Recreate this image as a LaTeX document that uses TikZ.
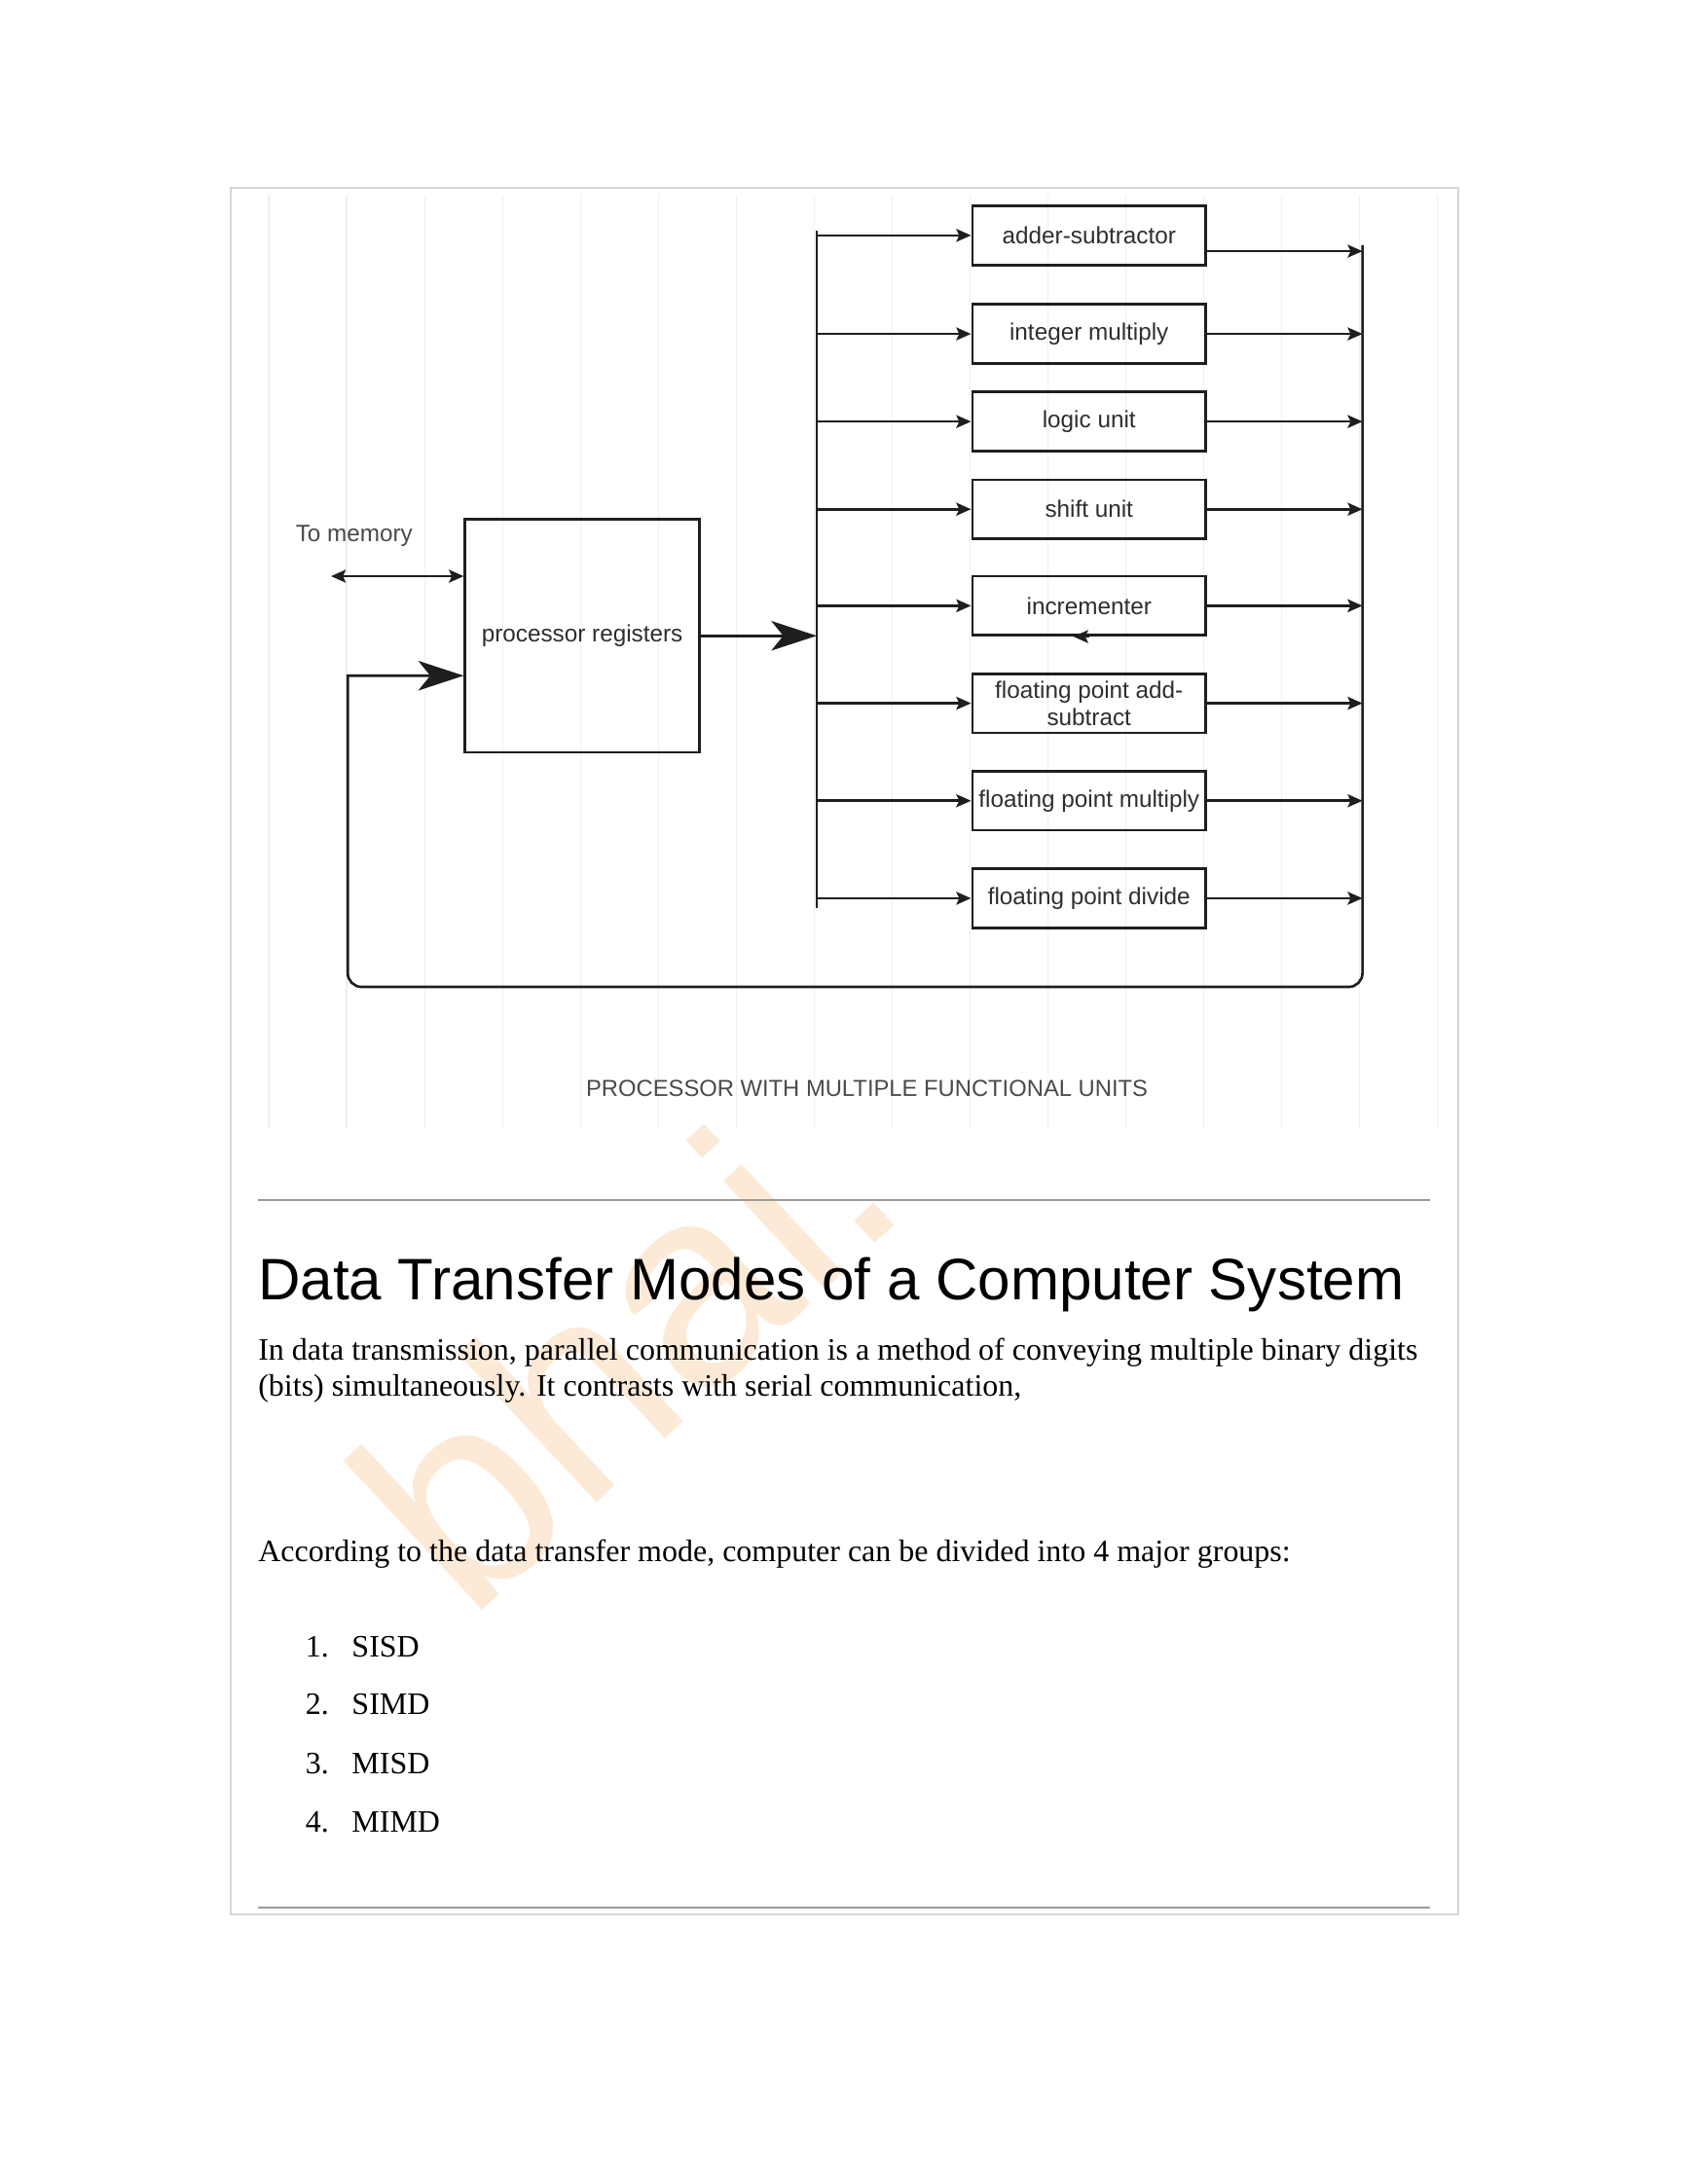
\documentclass[tikz,border=0pt]{standalone}
\usepackage{fontspec}
\setmainfont{Liberation Serif}
\newfontfamily\arialf{Liberation Sans}
\usetikzlibrary{arrows.meta}
\definecolor{ink}{HTML}{1E1E1E}
\definecolor{txt}{HTML}{2E2E2E}
\definecolor{capgray}{HTML}{4A4A4A}
\definecolor{rulegray}{HTML}{9A9A9A}
\definecolor{framegray}{HTML}{D6D6D6}
\definecolor{gridgray}{HTML}{EFEFEF}
\definecolor{wmorange}{HTML}{F5A04A}
\begin{document}
\begin{tikzpicture}[x=1pt,y=-1pt,
  unitbox/.style={draw=ink, line width=2.6pt, minimum width=237pt, minimum height=60pt,
    inner sep=0pt, align=center, text=txt, font=\arialf\fontsize{24}{28}\selectfont},
  regbox/.style={draw=ink, line width=2.6pt, minimum width=238pt, minimum height=237pt,
    inner sep=0pt, text=txt, font=\arialf\fontsize{24}{28}\selectfont},
  wire/.style={draw=ink, line width=2.6pt},
  arr/.style={wire, -{Stealth[length=15pt,width=13pt,inset=3pt]}},
  dblarr/.style={wire, {Stealth[length=15pt,width=13pt,inset=3pt]}-{Stealth[length=15pt,width=13pt,inset=3pt]}},
  bigarr/.style={wire, -{Stealth[length=46pt,width=30pt,inset=12pt]}},
  serif/.style={inner sep=0pt, anchor=base west, font=\fontsize{31.6}{36}\selectfont, text=black},
]
\useasboundingbox (0,0) rectangle (1713.4,2217.4);
\fill[white] (0,0) rectangle (1713.4,2217.4);

% page frame
\draw[framegray, line width=2pt] (234,191) rectangle (1480,1944);

% faint grid of the drawing
\foreach \i in {0,...,15}
  \draw[gridgray, line width=1.6pt] ({273+79.07*\i},198) -- ({273+79.07*\i},1145);

% watermark
\node[rotate=43, text=wmorange, text opacity=0.22, inner sep=0pt,
      font=\arialf\fontsize{285}{285}\selectfont] (wm) at (632,1362) {bhai.};

% bus coordinates
\coordinate (busLtop) at (829,234);
\coordinate (busLbot) at (829,922);
\coordinate (busRtop) at (1383,249);
\coordinate (busRbot) at (1383,1002);
\coordinate (loopL) at (353,1002);
\coordinate (loopM) at (353,820);
\coordinate (loopT) at (353,686);
\coordinate (memL) at (336,585);

% functional units
\node[unitbox] (adder)  at (1105.5,239) {adder-subtractor};
\node[unitbox] (intmul) at (1105.5,339) {integer multiply};
\node[unitbox] (logic)  at (1105.5,428) {logic unit};
\node[unitbox] (shift)  at (1105.5,517) {shift unit};
\node[unitbox] (inc)    at (1105.5,615) {incrementer};
\node[unitbox] (fpadd)  at (1105.5,714) {floating point add-\\subtract};
\node[unitbox] (fpmul)  at (1105.5,813) {floating point multiply};
\node[unitbox] (fpdiv)  at (1105.5,912) {floating point divide};

% processor registers
\node[regbox] (proc) at (591,645.5) {processor registers};

% labels
\node[inner sep=0pt, anchor=west, text=capgray, font=\arialf\fontsize{24}{28}\selectfont] (tomem) at (300,544) {To memory};
\node[inner sep=0pt, text=capgray, font=\arialf\fontsize{23.5}{28}\selectfont] (cap) at (880,1105) {PROCESSOR WITH MULTIPLE FUNCTIONAL UNITS};

% left bus
\draw[wire] (busLtop) -- (busLbot);
\foreach \u in {adder,intmul,logic,shift,inc,fpadd,fpmul,fpdiv}
  \draw[arr] (\u.west -| busLtop) -- (\u.west);

% outputs to right bus
\draw[arr] ([yshift=-16pt]adder.east) -- ([yshift=-16pt]adder.east -| busRtop);
\foreach \u in {intmul,logic,shift,inc,fpadd,fpmul,fpdiv}
  \draw[arr] (\u.east) -- (\u.east -| busRtop);

% incrementer small arrow
\draw[arr] (inc.south) -- ([xshift=-16pt]inc.south);

% right bus and feedback loop
\draw[bigarr] (busRtop) [rounded corners=14pt]-- (busRbot) -- (loopL) -- (loopM) [sharp corners]-- (loopT) -- (proc.west |- loopT);

% processor to bus
\draw[bigarr] (proc.east) -- (proc.east -| busLtop);

% memory link
\draw[dblarr] (memL) -- (proc.west |- memL);

% text part
\draw[rulegray, line width=2pt] (262,1218) -- (1452,1218);
\node[inner sep=0pt, anchor=base west, text=black, font=\arialf\fontsize{59.4}{66}\selectfont] (head) at (262,1320) {Data Transfer Modes of a Computer System};
\node[serif] (p1) at (262,1381) {In data transmission, parallel communication is a method of conveying multiple binary digits};
\node[serif] (p2) at (262,1417) {(bits) simultaneously. It contrasts with serial communication,};
\node[serif] (p3) at (262,1585) {According to the data transfer mode, computer can be divided into 4 major groups:};
\node[serif] (n1) at (310,1682) {1.};
\node[serif] (i1) at (357,1682) {SISD};
\node[serif] (n2) at (310,1741) {2.};
\node[serif] (i2) at (357,1741) {SIMD};
\node[serif] (n3) at (310,1801) {3.};
\node[serif] (i3) at (357,1801) {MISD};
\node[serif] (n4) at (310,1860) {4.};
\node[serif] (i4) at (357,1860) {MIMD};
\draw[rulegray, line width=2pt] (262,1937) -- (1452,1937);
\end{tikzpicture}
\end{document}
